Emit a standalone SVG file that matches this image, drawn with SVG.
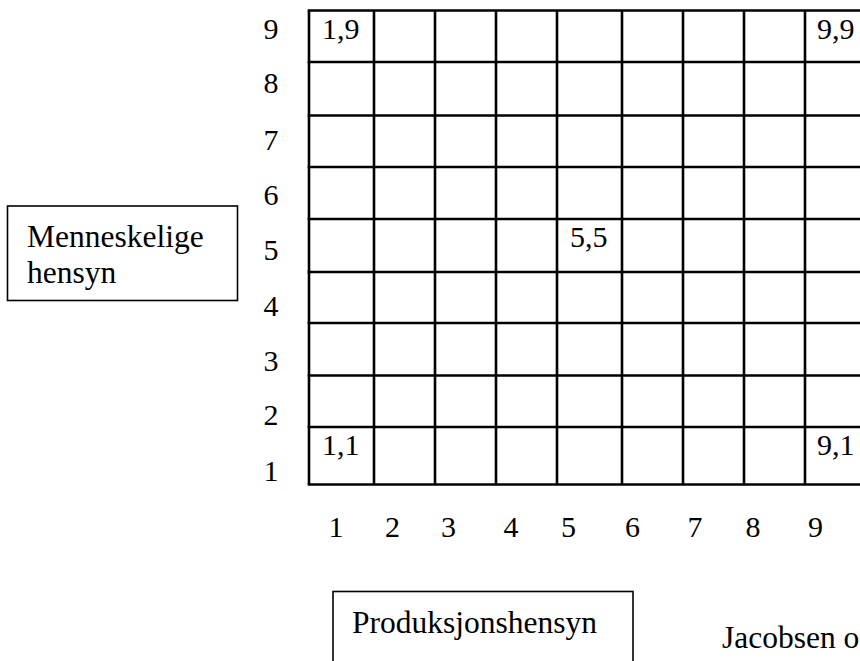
<svg xmlns="http://www.w3.org/2000/svg" width="860" height="661" viewBox="0 0 860 661">
<style>
text{font-family:"Liberation Serif","Times New Roman",serif;fill:#000}
.d{font-size:30px}
.w{font-size:31.5px}
.g line{stroke:#000;stroke-width:2.6}
.box{fill:none;stroke:#000;stroke-width:1.6}
</style>
<rect width="860" height="661" fill="#fff"/>
<g id="grid" class="g">
<line x1="309" y1="10.5" x2="309" y2="484.5"/>
<line x1="374" y1="10.5" x2="374" y2="484.5"/>
<line x1="435" y1="10.5" x2="435" y2="484.5"/>
<line x1="496" y1="10.5" x2="496" y2="484.5"/>
<line x1="557" y1="10.5" x2="557" y2="484.5"/>
<line x1="622" y1="10.5" x2="622" y2="484.5"/>
<line x1="683" y1="10.5" x2="683" y2="484.5"/>
<line x1="744" y1="10.5" x2="744" y2="484.5"/>
<line x1="805" y1="10.5" x2="805" y2="484.5"/>
<line x1="307.7" y1="10.5" x2="870" y2="10.5"/>
<line x1="307.7" y1="62" x2="870" y2="62"/>
<line x1="307.7" y1="115.5" x2="870" y2="115.5"/>
<line x1="307.7" y1="167" x2="870" y2="167"/>
<line x1="307.7" y1="219" x2="870" y2="219"/>
<line x1="307.7" y1="272" x2="870" y2="272"/>
<line x1="307.7" y1="323" x2="870" y2="323"/>
<line x1="307.7" y1="375.5" x2="870" y2="375.5"/>
<line x1="307.7" y1="427" x2="870" y2="427"/>
<line x1="307.7" y1="484.5" x2="870" y2="484.5"/>
</g>
<g id="cell-labels" class="d">
<text x="322" y="39">1,9</text>
<text x="817" y="39">9,9</text>
<text x="570" y="247">5,5</text>
<text x="322" y="455">1,1</text>
<text x="817" y="455">9,1</text>
</g>
<g id="row-labels" class="d" text-anchor="middle">
<text x="271" y="39">9</text>
<text x="271" y="93">8</text>
<text x="271" y="150">7</text>
<text x="271" y="205">6</text>
<text x="271" y="260">5</text>
<text x="271" y="316">4</text>
<text x="271" y="371">3</text>
<text x="271" y="425">2</text>
<text x="271" y="481">1</text>
</g>
<g id="col-labels" class="d" text-anchor="middle">
<text x="336" y="537">1</text>
<text x="392.5" y="537">2</text>
<text x="448.5" y="537">3</text>
<text x="511" y="537">4</text>
<text x="568.5" y="537">5</text>
<text x="632.5" y="537">6</text>
<text x="695" y="537">7</text>
<text x="753" y="537">8</text>
<text x="815.5" y="537">9</text>
</g>
<g id="menneskelige">
<rect class="box" x="7.5" y="206" width="230" height="94.5"/>
<text class="w" x="27" y="246.5">Menneskelige</text>
<text class="w" x="27" y="282.5">hensyn</text>
</g>
<g id="produksjon">
<rect class="box" x="333" y="591.5" width="300" height="80"/>
<text class="w" x="352" y="633">Produksjonshensyn</text>
</g>
<g id="source">
<text class="w" x="722" y="648">Jacobsen o</text>
</g>
</svg>
